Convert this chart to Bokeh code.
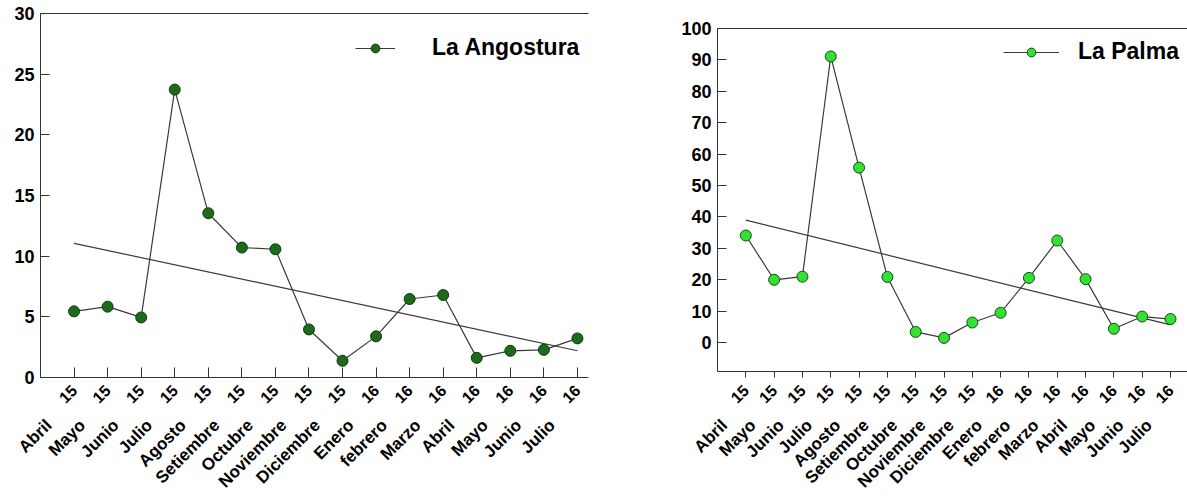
import numpy as np
from math import pi
from bokeh.plotting import figure
from bokeh.models import LinearAxis, FixedTicker, Range1d, Legend, LegendItem
from bokeh.layouts import row
from bokeh.embed import file_html
from bokeh.resources import INLINE

months = ["Abril", "Mayo", "Junio", "Julio", "Agosto", "Setiembre", "Octubre",
          "Noviembre", "Diciembre", "Enero", "febrero", "Marzo", "Abril",
          "Mayo", "Junio", "Julio"]
years = ["15"] * 9 + ["16"] * 7
angostura = [5.45, 5.84, 4.95, 23.73, 13.54, 10.71, 10.57, 3.96, 1.38, 3.39,
             6.47, 6.80, 1.62, 2.20, 2.28, 3.22]
palma = [34.1, 20.0, 21.0, 91.1, 55.7, 20.9, 3.4, 1.5, 6.4, 9.5, 20.6, 32.5,
         20.2, 4.4, 8.3, 7.5]
idx = list(range(1, len(months) + 1))

FONT = "Liberation Sans"


def panel(values, name, fill, outline, width, x_end, y_start, y_end, y_step,
          bl, bt, bb, br, xtick_in, xtick_out, leg_loc, glyph_w, standoff):
    p = figure(width=width, height=503, output_backend="svg", toolbar_location=None,
               x_range=Range1d(0, x_end), y_range=Range1d(y_start, y_end),
               min_border_left=bl, min_border_top=bt, min_border_bottom=bb,
               min_border_right=br)
    p.frame_align = False
    p.outline_line_color = None
    p.grid.visible = False
    p.background_fill_color = "white"
    p.border_fill_color = "white"

    # y axis
    ya = p.yaxis[0]
    ya.ticker = FixedTicker(ticks=list(range(0, int(y_end) + 1, y_step)))
    ya.major_tick_in = 9
    ya.major_tick_out = 0
    ya.minor_tick_line_color = None
    ya.major_label_text_font = FONT
    ya.major_label_text_font_style = "bold"
    ya.major_label_text_font_size = "18px"
    ya.major_label_text_color = "black"
    ya.axis_line_color = "#333333"
    ya.major_tick_line_color = "#333333"
    ya.major_label_standoff = 6

    # x axis with year labels
    xa = p.xaxis[0]
    xa.ticker = FixedTicker(ticks=idx)
    xa.major_label_overrides = {i: y for i, y in zip(idx, years)}
    xa.major_label_orientation = pi / 4
    xa.major_tick_in = xtick_in
    xa.major_tick_out = xtick_out
    xa.minor_tick_line_color = None
    xa.major_label_text_font = FONT
    xa.major_label_text_font_style = "bold"
    xa.major_label_text_font_size = "16px"
    xa.major_label_text_color = "black"
    xa.axis_line_color = "#333333"
    xa.major_tick_line_color = "#333333"
    xa.major_label_standoff = 10

    # month labels on a shifted axis
    d = 0.75
    p.extra_x_ranges = {"m": Range1d(0 + d, x_end + d)}
    ma = LinearAxis(x_range_name="m", ticker=FixedTicker(ticks=idx))
    ma.major_label_overrides = {i: m for i, m in zip(idx, months)}
    ma.major_label_orientation = pi / 4
    ma.axis_line_color = None
    ma.major_tick_line_color = None
    ma.minor_tick_line_color = None
    ma.major_tick_in = 0
    ma.major_tick_out = 0
    ma.major_label_standoff = 11
    ma.major_label_text_font = FONT
    ma.major_label_text_font_style = "bold"
    ma.major_label_text_font_size = "17px"
    ma.major_label_text_color = "black"
    p.add_layout(ma, "below")

    # top border line
    ta = LinearAxis(ticker=FixedTicker(ticks=[]))
    ta.major_tick_in = 0
    ta.major_tick_out = 0
    ta.major_label_standoff = 0
    ta.axis_line_color = "#333333"
    ta.major_label_text_font_size = "0px"
    p.add_layout(ta, "above")

    # trend line (least squares)
    x = np.array(idx, dtype=float)
    y = np.array(values, dtype=float)
    k, b = np.polyfit(x, y, 1)
    p.line([x[0], x[-1]], [k * x[0] + b, k * x[-1] + b], line_color="#3a3a3a",
           line_width=1.2)

    lr = p.line(idx, values, line_color="#3a3a3a", line_width=1.2)
    sr = p.scatter(idx, values, size=11, fill_color=fill, line_color=outline,
                   line_width=1)

    leg = Legend(items=[LegendItem(label=name, renderers=[lr, sr])],
                 location=leg_loc)
    leg.border_line_color = None
    leg.background_fill_alpha = 0
    leg.padding = 0
    leg.margin = 0
    leg.glyph_width = glyph_w
    leg.glyph_height = 22
    leg.label_standoff = standoff
    leg.label_text_font = FONT
    leg.label_text_font_style = "bold"
    leg.label_text_font_size = "23px"
    leg.label_text_color = "black"
    p.add_layout(leg, "center")
    return p


left = panel(angostura, "La Angostura", "#1d6a1d", "#0c3a0c", 640, 16.33,
             0, 30, 5, 40, 13, 126, 52, 10, 0, (315, 316), 40, 37)
right = panel(palma, "La Palma", "#33e133", "#1a4a1a", 547, 16.6,
              -9.2, 100, 10, 77, 28, 132, 0, 0, 6, (286, 306), 56, 19)

layout = row(left, right)
open("out.html", "w").write(file_html(layout, INLINE))
